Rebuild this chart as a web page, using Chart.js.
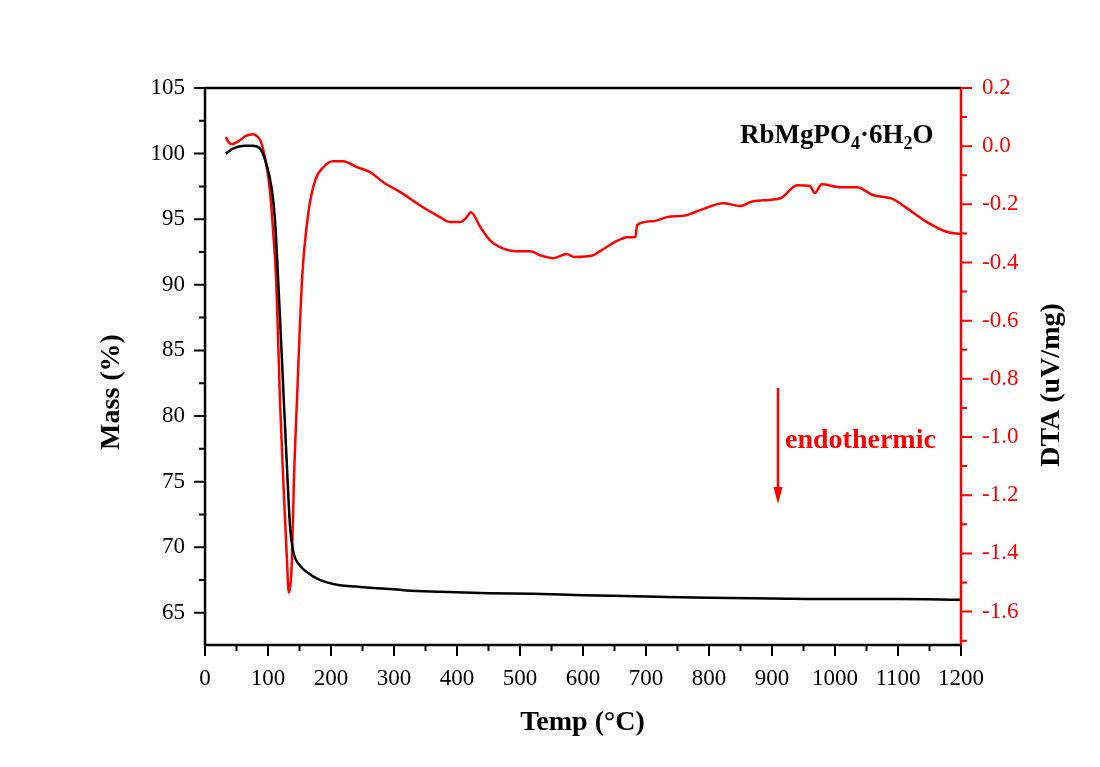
<!DOCTYPE html>
<html>
<head>
<meta charset="utf-8">
<script src="https://cdn.jsdelivr.net/npm/chart.js@4/dist/chart.umd.min.js"></script>
<style>
  body { margin: 0; background: #fff; }
  #wrap { width: 1100px; height: 767px; }
</style>
</head>
<body>
<div id="wrap"><canvas id="tga" width="1100" height="767"></canvas></div>
<script>
// ---- data ----
const massTemp = [33, 45, 63, 75, 87, 98, 106, 111, 115, 120, 125, 130, 135, 140, 151, 165, 178, 195, 214, 240, 267, 300, 320, 373, 450, 520, 600, 700, 800, 900, 1000, 1100, 1200];
const massValues = [100.0, 100.4, 100.6, 100.6, 100.4, 99.1, 97.3, 95.0, 91.5, 86.5, 81.3, 76.2, 71.6, 69.7, 68.6, 68.0, 67.6, 67.3, 67.1, 67.0, 66.9, 66.8, 66.7, 66.6, 66.5, 66.45, 66.35, 66.25, 66.15, 66.1, 66.05, 66.05, 66.0];

const dtaTemp = [33, 38, 43, 55, 65, 75, 82, 89, 98, 103, 108, 113, 119, 124, 130, 133, 136, 138, 141, 146, 154, 164, 175, 188, 203, 219, 241, 262, 283, 310, 346, 373, 389, 405, 415, 422, 437, 452, 468, 495, 516, 532, 553, 574, 587, 616, 627, 654, 670, 683, 686, 711, 733, 765, 786, 823, 849, 870, 913, 940, 960, 968, 979, 1008, 1035, 1060, 1092, 1114, 1146, 1178, 1200];
const dtaValues = [0.031, 0.012, 0.007, 0.02, 0.035, 0.041, 0.035, 0.014, -0.072, -0.151, -0.289, -0.46, -0.873, -1.137, -1.42, -1.535, -1.5, -1.42, -1.16, -0.873, -0.46, -0.23, -0.117, -0.072, -0.052, -0.052, -0.072, -0.089, -0.124, -0.158, -0.21, -0.244, -0.261, -0.261, -0.245, -0.227, -0.278, -0.323, -0.347, -0.361, -0.361, -0.375, -0.385, -0.371, -0.381, -0.375, -0.361, -0.326, -0.313, -0.313, -0.271, -0.258, -0.244, -0.237, -0.22, -0.196, -0.206, -0.189, -0.179, -0.134, -0.137, -0.161, -0.131, -0.141, -0.141, -0.168, -0.182, -0.213, -0.261, -0.295, -0.302];

const tempTicks = [0, 100, 200, 300, 400, 500, 600, 700, 800, 900, 1000, 1100, 1200];
const massTicks = [65, 70, 75, 80, 85, 90, 95, 100, 105];
const dtaTicks = [0.2, 0.0, -0.2, -0.4, -0.6, -0.8, -1.0, -1.2, -1.4, -1.6];

const SERIF = "'Liberation Serif', 'Times New Roman', serif";
const RED = '#ff0000';

function toPoints(xs, ys) {
    return xs.map((x, i) => ({ x: x, y: ys[i] }));
}

// draw frame, major/minor ticks, titles and labels
const decorPlugin = {
    id: 'decor',
    afterDraw(chart) {
        const ctx = chart.ctx;
        const a = chart.chartArea;
        const sx = chart.scales.x, sy = chart.scales.y, sy2 = chart.scales.y2;
        ctx.save();

        // frame
        ctx.lineWidth = 2.5;
        ctx.strokeStyle = '#000';
        ctx.beginPath();
        ctx.moveTo(a.left, a.top); ctx.lineTo(a.right, a.top);
        ctx.moveTo(a.left, a.top); ctx.lineTo(a.left, a.bottom);
        ctx.moveTo(a.left - 1, a.bottom); ctx.lineTo(a.right + 1, a.bottom);
        ctx.stroke();
        ctx.strokeStyle = RED;
        ctx.beginPath();
        ctx.moveTo(a.right, a.top); ctx.lineTo(a.right, a.bottom);
        ctx.stroke();

        // ticks
        ctx.lineWidth = 2;
        ctx.strokeStyle = '#000';
        ctx.beginPath();
        tempTicks.forEach((v, i) => {
            const px = sx.getPixelForValue(v);
            ctx.moveTo(px, a.bottom); ctx.lineTo(px, a.bottom + 11);
            if (i < tempTicks.length - 1) {
                const pm = sx.getPixelForValue(v + 50);
                ctx.moveTo(pm, a.bottom); ctx.lineTo(pm, a.bottom + 6);
            }
        });
        massTicks.forEach((v, i) => {
            const py = sy.getPixelForValue(v);
            ctx.moveTo(a.left, py); ctx.lineTo(a.left - 11, py);
            const pm = sy.getPixelForValue(v - 2.5);
            if (pm < a.bottom) { ctx.moveTo(a.left, pm); ctx.lineTo(a.left - 6, pm); }
        });
        ctx.stroke();
        ctx.strokeStyle = RED;
        ctx.beginPath();
        dtaTicks.forEach((v) => {
            const py = sy2.getPixelForValue(v);
            ctx.moveTo(a.right, py); ctx.lineTo(a.right + 11, py);
            const pm = sy2.getPixelForValue(v - 0.1);
            if (pm < a.bottom) { ctx.moveTo(a.right, pm); ctx.lineTo(a.right + 6, pm); }
        });
        ctx.stroke();

        // axis titles
        ctx.fillStyle = '#000';
        ctx.font = 'bold 28px ' + SERIF;
        ctx.textAlign = 'center';
        ctx.textBaseline = 'middle';
        ctx.fillText('Temp (\u00B0C)', (a.left + a.right) / 2 - 0.5, 723);
        ctx.save();
        ctx.translate(112, 392);
        ctx.rotate(-Math.PI / 2);
        ctx.fillText('Mass (%)', 0, 0);
        ctx.restore();
        ctx.save();
        ctx.translate(1052, 385);
        ctx.rotate(-Math.PI / 2);
        ctx.fillText('DTA (uV/mg)', 0, 0);
        ctx.restore();

        // compound label with subscripts
        ctx.textAlign = 'left';
        ctx.textBaseline = 'alphabetic';
        const big = 'bold 27px ' + SERIF, small = 'bold 18px ' + SERIF;
        const parts = [['RbMgPO', big, 0], ['4', small, 6], ['\u00B76H', big, 0], ['2', small, 6], ['O', big, 0]];
        let x = 740;
        parts.forEach(([t, f, dy]) => {
            ctx.font = f;
            ctx.fillText(t, x, 143 + dy);
            x += ctx.measureText(t).width;
        });

        // endothermic note and arrow
        ctx.fillStyle = RED;
        ctx.strokeStyle = RED;
        ctx.font = 'bold 28px ' + SERIF;
        ctx.fillText('endothermic', 785, 448);
        ctx.lineWidth = 2.5;
        ctx.beginPath();
        ctx.moveTo(778, 388); ctx.lineTo(778, 492);
        ctx.stroke();
        ctx.beginPath();
        ctx.moveTo(773.5, 487); ctx.lineTo(782.5, 487); ctx.lineTo(778, 504);
        ctx.closePath();
        ctx.fill();

        ctx.restore();
    }
};

new Chart(document.getElementById('tga'), {
    type: 'line',
    data: {
        datasets: [
            {
                label: 'Mass',
                data: toPoints(massTemp, massValues),
                yAxisID: 'y',
                borderColor: '#000',
                borderWidth: 2.5,
                pointRadius: 0,
                tension: 0.35,
                cubicInterpolationMode: 'monotone'
            },
            {
                label: 'DTA',
                data: toPoints(dtaTemp, dtaValues),
                yAxisID: 'y2',
                borderColor: RED,
                borderWidth: 2.5,
                pointRadius: 0,
                cubicInterpolationMode: 'monotone'
            }
        ]
    },
    options: {
        responsive: false,
        animation: false,
        layout: { padding: { top: 88, left: 0, right: 0, bottom: 0 } },
        plugins: { legend: { display: false }, tooltip: { enabled: false } },
        scales: {
            x: {
                type: 'linear',
                min: 0, max: 1200,
                grid: { display: false, drawTicks: false },
                border: { display: false },
                afterBuildTicks: (s) => { s.ticks = tempTicks.map(v => ({ value: v })); },
                afterFit: (s) => { s.height = 122; },
                ticks: {
                    padding: 20,
                    color: '#000',
                    font: { family: SERIF, size: 23 },
                    maxRotation: 0,
                    autoSkip: false,
                    callback: (v) => String(v)
                }
            },
            y: {
                position: 'left',
                min: 62.55, max: 105,
                grid: { display: false, drawTicks: false },
                border: { display: false },
                afterBuildTicks: (s) => { s.ticks = massTicks.map(v => ({ value: v })); },
                afterFit: (s) => { s.width = 205; },
                ticks: {
                    padding: 20,
                    color: '#000',
                    font: { family: SERIF, size: 23 },
                    callback: (v) => String(v)
                }
            },
            y2: {
                position: 'right',
                min: -1.715, max: 0.2,
                grid: { display: false, drawTicks: false },
                border: { display: false },
                afterBuildTicks: (s) => { s.ticks = dtaTicks.map(v => ({ value: v })); },
                afterFit: (s) => { s.width = 139; },
                ticks: {
                    padding: 21,
                    color: RED,
                    font: { family: SERIF, size: 23 },
                    callback: (v) => v.toFixed(1)
                }
            }
        }
    },
    plugins: [decorPlugin]
});
</script>
</body>
</html>
